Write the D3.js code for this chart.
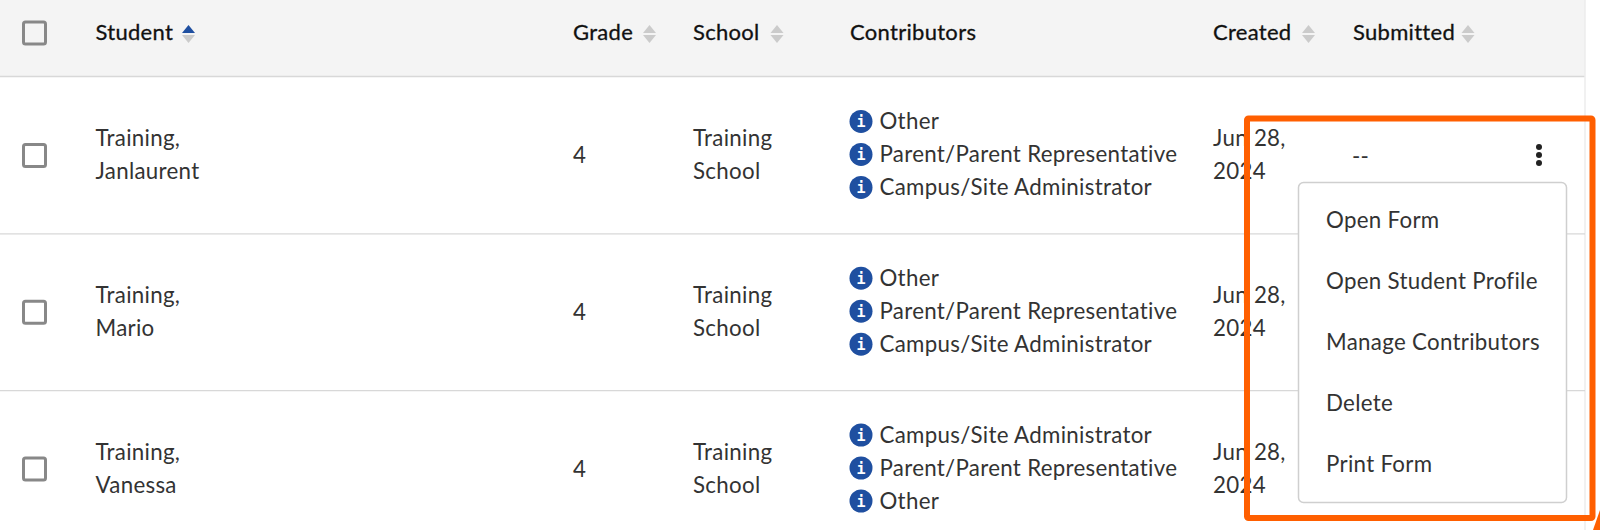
<!DOCTYPE html>
<html><head><meta charset="utf-8">
<script src="https://cdnjs.cloudflare.com/ajax/libs/d3/7.9.0/d3.min.js"></script>
<style>html,body{margin:0;padding:0;background:#fff;overflow:hidden}svg{display:block}text{font-family:Lato,"Open Sans",sans-serif;letter-spacing:.3px}</style>
</head><body><svg id="c" width="1600" height="530"></svg>
<script>
const columns=["Student","Grade","School","Contributors","Created","Submitted"];
const columnX=[95.5,573,693,850,1213,1353];
const sortIconX=[188.5,649.5,777,null,1308.5,1468];
const students=["Training,|Janlaurent","Training,|Mario","Training,|Vanessa"];
const grades=["4","4","4"];
const schools=["Training|School","Training|School","Training|School"];
const contributors=[["Other","Parent/Parent Representative","Campus/Site Administrator"],["Other","Parent/Parent Representative","Campus/Site Administrator"],["Campus/Site Administrator","Parent/Parent Representative","Other"]];
const created=["Jun 28,|2024","Jun 28,|2024","Jun 28,|2024"];
const submitted=["--"];
const menuItems=["Open Form","Open Student Profile","Manage Contributors","Delete","Print Form"];

const svg=d3.select("#c");
const FS=22.3,TXT="#333",HDR="#111";
const rowY=d3.scaleBand().domain(d3.range(students.length)).range([77,77+156.8*3]);
const cy=i=>rowY(i)+rowY.bandwidth()/2;
const lineY=d3.scalePoint().domain([-1,0,1]).range([-16.5,16.5]);
const contribY=d3.scalePoint().domain([0,1,2]).range([-33,33]);
const menuY=d3.scalePoint().domain(d3.range(menuItems.length)).range([227.5,471.5]);

svg.append("rect").attr("width",1585).attr("height",76).attr("fill","#f4f4f4");
svg.append("line").attr("x1",0).attr("x2",1585).attr("y1",76.5).attr("y2",76.5).attr("stroke","#d8d8d8").attr("stroke-width",1.5);
svg.append("line").attr("x1",1585).attr("x2",1585).attr("y1",0).attr("y2",530).attr("stroke","#ececec").attr("stroke-width",1.5);
[0,1].forEach(i=>svg.append("line").attr("x1",0).attr("x2",1585).attr("y1",rowY(i)+rowY.bandwidth()).attr("y2",rowY(i)+rowY.bandwidth()).attr("stroke","#d8d8d8").attr("stroke-width",1.2));

const box=(y)=>svg.append("rect").attr("x",23.5).attr("y",y-11).attr("width",22).attr("height",22).attr("rx",2).attr("fill","none").attr("stroke","#888").attr("stroke-width",3);
box(33);
students.forEach((_,i)=>box(cy(i)));

columns.forEach((c,i)=>{
  svg.append("text").attr("x",columnX[i]).attr("y",40).attr("font-size",22).attr("fill",HDR).attr("stroke",HDR).attr("stroke-width",.3).text(c);
  if(sortIconX[i]!=null){
    const x=sortIconX[i];
    svg.append("path").attr("d",`M${x-6.5},33 L${x},25 L${x+6.5},33 Z`).attr("fill",i==0?"#1f4fa0":"#cbcbcb");
    svg.append("path").attr("d",`M${x-6.5},35 L${x},43 L${x+6.5},35 Z`).attr("fill","#cbcbcb");
  }
});

function two(x,i,s){
  const c=cy(i);
  s.split("|").forEach((t,k)=>svg.append("text").attr("x",x).attr("y",c+lineY(k===0?-1:1)+7.5).attr("font-size",FS).attr("fill",TXT).text(t));
}
students.forEach((s,i)=>two(columnX[0],i,s));
grades.forEach((g,i)=>svg.append("text").attr("x",columnX[1]).attr("y",cy(i)+7.5).attr("font-size",FS).attr("fill",TXT).text(g));
schools.forEach((s,i)=>two(columnX[2],i,s));
created.forEach((s,i)=>two(columnX[4],i,s));
contributors.forEach((list,i)=>list.forEach((t,k)=>{
  const y=cy(i)+contribY(k);
  const g=svg.append("g").attr("transform",`translate(861,${y-1})`);
  g.append("circle").attr("r",11.5).attr("fill","#1f4fa0");
  g.append("text").attr("text-anchor","middle").attr("y",5.5).style("font-family","'DejaVu Sans Mono'").style("letter-spacing","0").attr("font-size",15).attr("font-weight",700).attr("fill","#fff").text("i");
  svg.append("text").attr("x",879.5).attr("y",y+7).attr("font-size",FS).attr("fill",TXT).text(t);
}));
svg.append("text").attr("x",1352).attr("y",cy(0)+8.5).attr("font-size",FS).attr("fill",TXT).text(submitted[0]);
[-8,0,8].forEach(d=>svg.append("circle").attr("cx",1539).attr("cy",155+d).attr("r",3).attr("fill","#222"));

svg.append("rect").attr("x",1298.5).attr("y",182.5).attr("width",268).attr("height",320).attr("rx",5).attr("fill","#fff").attr("stroke","#cfcfcf").attr("stroke-width",1.5);
menuItems.forEach((m,i)=>svg.append("text").attr("x",1326).attr("y",menuY(i)).attr("font-size",FS).attr("fill",TXT).text(m));

svg.append("rect").attr("x",1247).attr("y",118.5).attr("width",345.5).attr("height",399.5).attr("rx",1.5).attr("fill","none").attr("stroke","#ff5f00").attr("stroke-width",6);
svg.append("path").attr("d","M1600,510 L1593,530 L1600,530 Z").attr("fill","#ff5f00");
</script></body></html>
